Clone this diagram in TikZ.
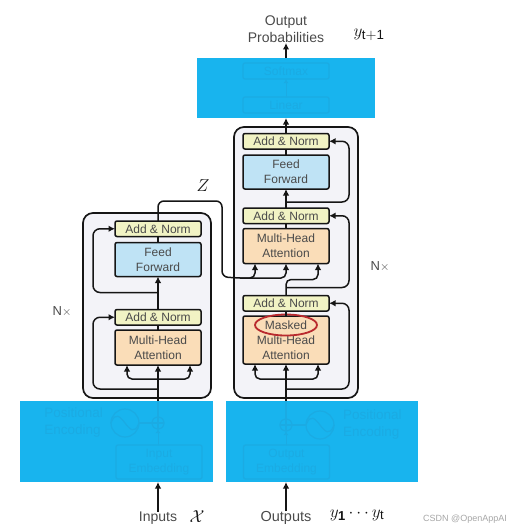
\documentclass[tikz,border=0pt]{standalone}
\usepackage{amsmath}
\usepackage{xcolor}
\usepackage{fontspec}
\setmainfont{Liberation Sans}
\usepackage{tikz}
\usetikzlibrary{arrows.meta,positioning,shapes.geometric}
\definecolor{coverblue}{HTML}{18B4EE}
\definecolor{faintblue}{HTML}{1BABE3}
\definecolor{panel}{HTML}{F3F3F8}
\definecolor{normfill}{HTML}{F1F3C4}
\definecolor{feedfill}{HTML}{BFE3F5}
\definecolor{attnfill}{HTML}{FADDB8}
\definecolor{ink}{HTML}{151515}
\definecolor{muted}{HTML}{4A4A4A}
\definecolor{ringred}{HTML}{B92A2E}

\begin{document}
\begin{tikzpicture}[
    x=1pt, y=-1pt,
    every node/.style={outer sep=0pt, inner sep=0pt, text=muted,
      font=\fontsize{12}{15}\selectfont},
    box/.style={draw=ink, line width=1.5pt, rounded corners=2pt, align=center,
      minimum width=86pt},
    addnorm/.style={box, fill=normfill, minimum height=15.5pt},
    feed/.style={box, fill=feedfill, minimum height=34pt},
    attn/.style={box, fill=attnfill, minimum height=35pt},
    stack/.style={draw=ink, line width=1.7pt, rounded corners=10pt, fill=panel},
    cover/.style={fill=coverblue},
    ghost/.style={draw=faintblue, line width=1.3pt, rounded corners=2pt,
      align=center, minimum width=86pt, text=faintblue},
    ghostnote/.style={align=left, text=faintblue,
      font=\fontsize{13.5}{17}\selectfont},
    flow/.style={-{Latex[length=6.5pt,width=6.5pt]}, line width=1.5pt, draw=ink},
    wire/.style={line width=1.5pt, draw=ink},
    ghostflow/.style={-{Latex[length=4pt,width=4.5pt]}, line width=1pt, draw=faintblue},
    ghostline/.style={line width=1.2pt, draw=faintblue},
    caption/.style={align=center, font=\fontsize{14}{17}\selectfont},
    mathnote/.style={text=ink, font=\fontsize{16}{16}\selectfont}
  ]
    \useasboundingbox (0,0) rectangle (510,530);

    % stacks
    \node[stack, minimum width=128pt, minimum height=185pt] (encstack) at (147,305.5) {};
    \node[stack, minimum width=124pt, minimum height=271pt] (decstack) at (296,262.5) {};

    % encoder
    \node[attn] (encattn) at (158,347.5) {Multi-Head\\Attention};
    \node[addnorm, above=5pt of encattn] (encadda) {Add \& Norm};
    \node[feed, above=33pt of encadda] (encfeed) {Feed\\Forward};
    \node[addnorm, above=6pt of encfeed] (encaddb) {Add \& Norm};

    % decoder
    \node[attn, minimum height=48pt] (decmask) at (286,340) {Masked\\Multi-Head\\Attention};
    \node[addnorm, above=5pt of decmask] (decadda) {Add \& Norm};
    \node[attn, above=32pt of decadda] (decattn) {Multi-Head\\Attention};
    \node[addnorm, above=5pt of decattn] (decaddb) {Add \& Norm};
    \node[feed, above=19pt of decaddb] (decfeed) {Feed\\Forward};
    \node[addnorm, above=6pt of decfeed] (decaddc) {Add \& Norm};
    \node[ellipse, draw=ringred, line width=1.8pt, minimum width=62pt,
      minimum height=21pt] (maskring) at ([yshift=-9pt]decmask.north) {};

    % covered parts
    \node[cover, minimum width=178pt, minimum height=60pt] (topcover) at (286,88) {};
    \node[cover, minimum width=193pt, minimum height=81pt] (incover) at (116.5,441.5) {};
    \node[cover, minimum width=192pt, minimum height=81pt] (outcover) at (322,441.5) {};

    \node[ghost, minimum height=16pt] (linear) at (286,105) {Linear};
    \node[ghost, minimum height=16pt, above=18pt of linear] (softmax) {Softmax};
    \draw[ghostflow] (linear) -- (softmax);

    \node[ghost, minimum height=34pt] (inembed) at (159,462) {Input\\Embedding};
    \node[circle, draw=faintblue, line width=1.2pt, minimum size=12pt] (inplus) at (158,423) {};
    \node[circle, draw=faintblue, line width=1.2pt, minimum size=28pt, left=13pt of inplus] (insine) {};
    \node[ghostnote, left=8pt of insine] (inpos) {Positional\\Encoding};
    \draw[ghostline] (inplus.north) -- (inplus.south);
    \draw[ghostline] (inplus.west) -- (inplus.east);
    \draw[ghostline] (insine) -- (inplus);
    \draw[ghostline] (insine.west) .. controls ([xshift=9pt,yshift=24pt]insine.west) and ([xshift=-9pt,yshift=-24pt]insine.east) .. (insine.east);
    \draw[ghostflow] (inembed.north -| inplus) -- (inplus);

    \node[ghost, minimum height=34pt] (outembed) at (286.5,462) {Output\\Embedding};
    \node[circle, draw=faintblue, line width=1.2pt, minimum size=12pt] (outplus) at (286,425) {};
    \node[circle, draw=faintblue, line width=1.2pt, minimum size=28pt, right=14pt of outplus] (outsine) {};
    \node[ghostnote, right=9pt of outsine] (outpos) {Positional\\Encoding};
    \draw[ghostline] (outplus.north) -- (outplus.south);
    \draw[ghostline] (outplus.west) -- (outplus.east);
    \draw[ghostline] (outplus) -- (outsine);
    \draw[ghostline] (outsine.west) .. controls ([xshift=9pt,yshift=24pt]outsine.west) and ([xshift=-9pt,yshift=-24pt]outsine.east) .. (outsine.east);
    \draw[ghostflow] (outembed.north -| outplus) -- (outplus);
    \draw[ghostline] (inplus.north) -- (incover.north -| inplus);
    \draw[ghostline] (outplus.north) -- (outcover.north -| outplus);

    % labels
    \node[caption] (outprob) at (286,29.5) {Output\\Probabilities};
    \node[mathnote, font=\fontsize{19}{19}\selectfont] (ynext) at (369,35) {$y_{\mathrm{t+1}}$};
    \node[mathnote, font=\fontsize{17}{17}\selectfont] (zlabel) at (203,186) {$Z$};
    \node[caption] (inputs) at (158,518) {Inputs};
    \node[mathnote] (xlabel) at (197,517) {$\mathcal{X}$};
    \node[caption, font=\fontsize{14.5}{17}\selectfont] (outputs) at (286,518) {Outputs};
    \node[mathnote, font=\fontsize{18.5}{19}\selectfont] (ylabel) at (357,515) {$y_{\mathbf{1}}\cdots y_{\mathrm{t}}$};
    \node[font=\fontsize{13}{15}\selectfont] (encrepeat) at (62,312) {N$\times$};
    \node[font=\fontsize{13}{15}\selectfont] (decrepeat) at (380,267) {N$\times$};
    \node[text=black!35, font=\fontsize{9}{9}\selectfont] (mark) at (465,519) {CSDN @OpenAppAI};

    % encoder connectors
    \coordinate[below=14pt of encattn.south] (encfork);
    \coordinate[below=24pt of encattn.south] (encskipa);
    \coordinate[above=17pt of encadda.north] (encskipb);
    \draw[flow] (incover.north -| encattn) -- (encattn.south);
    \draw[flow, rounded corners=5pt] (encfork) -| ([xshift=-31pt]encattn.south);
    \draw[flow, rounded corners=5pt] (encfork) -| ([xshift=32pt]encattn.south);
    \draw[flow, rounded corners=7pt] (encskipa) -- ++(-65,0) |- (encadda.west);
    \draw[wire] (encattn) -- (encadda);
    \draw[flow] (encadda) -- (encfeed);
    \draw[wire] (encfeed) -- (encaddb);
    \draw[flow, rounded corners=7pt] (encskipb) -- ++(-65,0) |- (encaddb.west);

    % decoder connectors
    \coordinate[below=15pt of decmask.south] (decfork);
    \coordinate[below=25pt of decmask.south] (decskipa);
    \coordinate[above=8pt of decadda.north] (decskipb);
    \coordinate[above=6pt of decaddb.north] (decskipc);
    \draw[flow] (outcover.north -| decmask) -- (decmask.south);
    \draw[flow, rounded corners=5pt] (decfork) -| ([xshift=-31pt]decmask.south);
    \draw[flow, rounded corners=5pt] (decfork) -| ([xshift=32pt]decmask.south);
    \draw[flow, rounded corners=7pt] (decskipa) -- ++(63,0) |- (decadda.east);
    \draw[wire] (decmask) -- (decadda);
    \draw[flow, rounded corners=5pt] (decadda.north) -- ++(0,-16) -| ([xshift=32pt]decattn.south);
    \draw[flow, rounded corners=7pt] (decskipb) -- ++(63,0) |- (decaddb.east);
    \draw[wire] (decattn) -- (decaddb);
    \draw[flow] (decaddb) -- (decfeed);
    \draw[wire] (decfeed) -- (decaddc);
    \draw[flow, rounded corners=7pt] (decskipc) -- ++(63,0) |- (decaddc.east);
    \draw[flow] (decaddc.north) -- (topcover.south);

    % encoder output into decoder
    \coordinate (zfork) at (240,278);
    \draw[wire, rounded corners=6pt] (encaddb.north) -- ++(0,-20) -- ++(64,0) -- ++(0,76) -- (zfork);
    \draw[flow, rounded corners=5pt] (zfork) -| ([xshift=-31pt]decattn.south);
    \draw[flow, rounded corners=5pt] (zfork) -| (decattn.south);

    % ends
    \draw[flow] (topcover.north) -- (outprob.south);
    \draw[flow] (inputs.north) -- (incover.south -| inputs);
    \draw[flow] (outputs.north) -- (outcover.south -| outputs);
\end{tikzpicture}
\end{document}
